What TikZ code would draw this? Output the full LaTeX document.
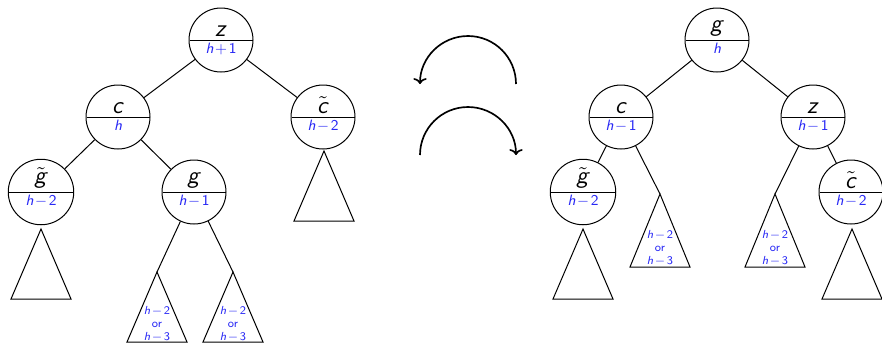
\documentclass[tikz,border=0pt]{standalone}
\usetikzlibrary{arrows.meta,shapes.multipart}

\definecolor{hblue}{RGB}{40,40,245}

\newcommand{\sfit}[1]{\textsf{\textit{#1}}}
\newcommand{\tl}[1]{$\tilde{\mbox{\sfit{#1}}}$}
\newcommand{\hm}[1]{\sfit{h}\kern1pt$-$\kern1pt\textsf{#1}}
\newcommand{\hlab}[1]{\nodepart{lower}{\small\color{hblue}#1}}
% subtree triangle hanging from an apex coordinate
\newcommand{\subtree}[1]{\draw[tline] (#1) -- ++(-30,70) -- ++(60,0) -- cycle;}

\tikzset{
	hnode/.style={circle split,draw,line width=0.6pt,minimum size=38.4pt,
		inner sep=1.6pt,font=\Large},
	tline/.style={line width=0.6pt},
	trilab/.style={font=\scriptsize\sffamily,text=hblue,align=center,inner sep=0pt},
	rot/.style={line width=1pt,-{To[length=3.5pt,width=8pt]}}
}

\begin{document}
\begin{tikzpicture}[x=0.6pt,y=-0.6pt]
	
	\clip (0,0) rectangle (882,342);
	
	% Left tree
	\node[hnode] (z) at (221,40) {\sfit{z} \hlab{\sfit{h}\kern1pt$+$\kern1pt\textsf{1}}};
	\node[hnode] (c) at (118,117) {\sfit{c} \hlab{\sfit{h}}};
	\node[hnode] (ct) at (323,117) {\tl{c} \hlab{\hm{2}}};
	\node[hnode] (gt) at (41,192) {\tl{g} \hlab{\hm{2}}};
	\node[hnode] (g) at (194,192) {\sfit{g} \hlab{\hm{1}}};
	
	\draw[tline] (z) -- (c);
	\draw[tline] (z) -- (ct);
	\draw[tline] (c) -- (gt);
	\draw[tline] (c) -- (g);
	
	\coordinate (gta) at (41,229);
	\coordinate (cta) at (324,151);
	\coordinate (gla) at (157,272);
	\coordinate (gra) at (233,272);
	\subtree{gta}
	\subtree{cta}
	\draw[tline] (g) -- (gla);
	\draw[tline] (g) -- (gra);
	\subtree{gla}
	\subtree{gra}
	\node[trilab] (gll) at (157,324) {\hm{2}\\or\\\hm{3}};
	\node[trilab] (grl) at (233,324) {\hm{2}\\or\\\hm{3}};
	
	% Rotation arrows
	\coordinate (ru) at (516,84);
	\coordinate (rl) at (420,155);
	\draw[rot] (ru) arc (0:-180:48);
	\draw[rot] (rl) arc (180:360:48);
	
	% Right tree
	\node[hnode] (g2) at (717,40) {\sfit{g} \hlab{\sfit{h}}};
	\node[hnode] (c2) at (621,117) {\sfit{c} \hlab{\hm{1}}};
	\node[hnode] (z2) at (813,117) {\sfit{z} \hlab{\hm{1}}};
	\node[hnode] (gt2) at (583,192) {\tl{g} \hlab{\hm{2}}};
	\node[hnode] (ct2) at (851,192) {\tl{c} \hlab{\hm{2}}};
	
	\draw[tline] (g2) -- (c2);
	\draw[tline] (g2) -- (z2);
	\draw[tline] (c2) -- (gt2);
	\draw[tline] (z2) -- (ct2);
	
	\coordinate (gt2a) at (583,229);
	\coordinate (c2a) at (660,194);
	\coordinate (z2a) at (775,194);
	\coordinate (ct2a) at (852,229);
	\subtree{gt2a}
	\subtree{ct2a}
	\draw[tline] (c2) -- (c2a);
	\draw[tline] (z2) -- (z2a);
	\draw[tline] (c2a) -- ++(-30,73) -- ++(60,0) -- cycle;
	\draw[tline] (z2a) -- ++(-30,73) -- ++(60,0) -- cycle;
	\node[trilab] (c2l) at (660,248) {\hm{2}\\or\\\hm{3}};
	\node[trilab] (z2l) at (775,248) {\hm{2}\\or\\\hm{3}};
	
\end{tikzpicture}
\end{document}
